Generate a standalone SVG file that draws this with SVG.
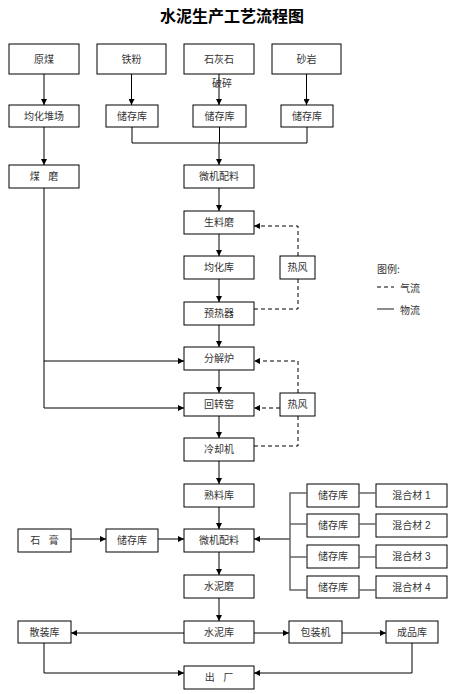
<svg xmlns="http://www.w3.org/2000/svg" width="463" height="694" viewBox="0 0 463 694">
<style>
.b{fill:#fff;stroke:#000;stroke-width:1}
.t{font-family:"Liberation Sans","Noto Sans CJK SC",sans-serif;font-size:10px;fill:#333;text-anchor:middle;dominant-baseline:central}
.l{fill:none;stroke:#000;stroke-width:1}
.d{fill:none;stroke:#000;stroke-width:1;stroke-dasharray:4,3}
.g{fill:none;stroke:#666;stroke-width:1.5}
</style>
<defs>
<marker id="a" viewBox="0 0 10 10" refX="10" refY="5" markerWidth="6" markerHeight="6" orient="auto" markerUnits="userSpaceOnUse"><path d="M0,0L10,5L0,10z" fill="#000"/></marker>
</defs>
<rect width="463" height="694" fill="#fff"/>
<text x="232" y="15" style="font-family:'Noto Sans CJK SC',sans-serif;font-size:16px;font-weight:bold;text-anchor:middle;dominant-baseline:central">水泥生产工艺流程图</text>

<g id="n_yuanmei"><rect class="b" x="9" y="44" width="70" height="30"/><text class="t" x="44" y="59">原煤</text></g>
<g id="n_tiefen"><rect class="b" x="97" y="44" width="69" height="30"/><text class="t" x="131.5" y="59">铁粉</text></g>
<g id="n_shihuishi"><rect class="b" x="184" y="44" width="70" height="30"/><text class="t" x="219" y="59">石灰石</text></g>
<g id="n_shayan"><rect class="b" x="272" y="44" width="69" height="30"/><text class="t" x="306.5" y="59">砂岩</text></g>

<g id="n_junhuaduichang"><rect class="b" x="9" y="105" width="70" height="22"/><text class="t" x="44" y="116">均化堆场</text></g>
<g id="n_ck1"><rect class="b" x="106" y="105" width="52" height="22"/><text class="t" x="132" y="116">储存库</text></g>
<g id="n_ck2"><rect class="b" x="193" y="105" width="53" height="22"/><text class="t" x="219.5" y="116">储存库</text></g>
<g id="n_ck3"><rect class="b" x="281" y="105" width="52" height="22"/><text class="t" x="307" y="116">储存库</text></g>

<g id="n_meimo"><rect class="b" x="9" y="165" width="70" height="23"/><text class="t" x="44" y="176.5" xml:space="preserve">煤   磨</text></g>
<g id="n_wjpl1"><rect class="b" x="184" y="165" width="70" height="23"/><text class="t" x="219" y="176.5">微机配料</text></g>
<g id="n_shengliaomo"><rect class="b" x="184" y="211" width="70" height="23"/><text class="t" x="219" y="222.5">生料磨</text></g>
<g id="n_junhuaku"><rect class="b" x="184" y="256" width="70" height="23"/><text class="t" x="219" y="267.5">均化库</text></g>
<g id="n_refeng1"><rect class="b" x="280" y="256" width="35" height="23"/><text class="t" x="297.5" y="267.5">热风</text></g>
<g id="n_yureqi"><rect class="b" x="184" y="302" width="70" height="23"/><text class="t" x="219" y="313.5">预热器</text></g>
<g id="n_fenjielu"><rect class="b" x="184" y="347" width="70" height="23"/><text class="t" x="219" y="358.5">分解炉</text></g>
<g id="n_huizhuanyao"><rect class="b" x="184" y="393" width="70" height="23"/><text class="t" x="219" y="404.5">回转窑</text></g>
<g id="n_refeng2"><rect class="b" x="280" y="393" width="35" height="23"/><text class="t" x="297.5" y="404.5">热风</text></g>
<g id="n_lengqueji"><rect class="b" x="184" y="438" width="70" height="23"/><text class="t" x="219" y="449.5">冷却机</text></g>
<g id="n_shuliaoku"><rect class="b" x="184" y="484" width="70" height="23"/><text class="t" x="219" y="495.5">熟料库</text></g>
<g id="n_shigao"><rect class="b" x="18" y="529" width="53" height="23"/><text class="t" x="44.5" y="540.5" xml:space="preserve">石   膏</text></g>
<g id="n_ck_sg"><rect class="b" x="106" y="529" width="52" height="23"/><text class="t" x="132" y="540.5">储存库</text></g>
<g id="n_wjpl2"><rect class="b" x="184" y="529" width="70" height="23"/><text class="t" x="219" y="540.5">微机配料</text></g>
<g id="n_shuinimo"><rect class="b" x="184" y="575" width="70" height="23"/><text class="t" x="219" y="586.5">水泥磨</text></g>

<g id="n_ckr1"><rect class="b" x="307" y="484" width="52" height="23"/><text class="t" x="333" y="495.5">储存库</text></g>
<g id="n_ckr2"><rect class="b" x="307" y="514" width="52" height="23"/><text class="t" x="333" y="525.5">储存库</text></g>
<g id="n_ckr3"><rect class="b" x="307" y="545" width="52" height="23"/><text class="t" x="333" y="556.5">储存库</text></g>
<g id="n_ckr4"><rect class="b" x="307" y="576" width="52" height="22"/><text class="t" x="333" y="587">储存库</text></g>
<g id="n_hhc1"><rect class="b" x="376" y="484" width="71" height="23"/><text class="t" x="411.5" y="495.5">混合材 1</text></g>
<g id="n_hhc2"><rect class="b" x="376" y="514" width="71" height="23"/><text class="t" x="411.5" y="525.5">混合材 2</text></g>
<g id="n_hhc3"><rect class="b" x="376" y="545" width="71" height="23"/><text class="t" x="411.5" y="556.5">混合材 3</text></g>
<g id="n_hhc4"><rect class="b" x="376" y="576" width="71" height="22"/><text class="t" x="411.5" y="587">混合材 4</text></g>

<g id="n_sanzhuangku"><rect class="b" x="18" y="621" width="53" height="22"/><text class="t" x="44.5" y="632">散装库</text></g>
<g id="n_shuiniku"><rect class="b" x="184" y="621" width="70" height="22"/><text class="t" x="219" y="632">水泥库</text></g>
<g id="n_baozhuangji"><rect class="b" x="289" y="621" width="53" height="22"/><text class="t" x="315.5" y="632">包装机</text></g>
<g id="n_chengpinku"><rect class="b" x="386" y="621" width="52" height="22"/><text class="t" x="412" y="632">成品库</text></g>
<g id="n_chuchang"><rect class="b" x="184" y="666" width="70" height="23"/><text class="t" x="219" y="677.5" xml:space="preserve">出   厂</text></g>

<g id="legend">
<text x="377" y="268" style="font-family:'Noto Sans CJK SC',sans-serif;font-size:10px;fill:#333;dominant-baseline:central">图例:</text>
<line class="d" x1="377" y1="287" x2="394" y2="287"/>
<text x="400" y="287" style="font-family:'Noto Sans CJK SC',sans-serif;font-size:10px;fill:#333;dominant-baseline:central">气流</text>
<line x1="377" y1="309" x2="394" y2="309" stroke="#666" stroke-width="1.5"/>
<text x="400" y="309" style="font-family:'Noto Sans CJK SC',sans-serif;font-size:10px;fill:#333;dominant-baseline:central">物流</text>
</g>

<g id="connectors">
<line class="l" x1="44" y1="74" x2="44" y2="105" marker-end="url(#a)"/>
<line class="l" x1="131.5" y1="74" x2="131.5" y2="105" marker-end="url(#a)"/>
<line class="l" x1="219" y1="74" x2="219" y2="105" marker-end="url(#a)"/>
<text x="222" y="83" class="t">破碎</text>
<line class="l" x1="306.5" y1="74" x2="306.5" y2="105" marker-end="url(#a)"/>
<line class="l" x1="44" y1="127" x2="44" y2="165" marker-end="url(#a)"/>
<path class="l" d="M132,127V143H307V127M219.5,127V143"/>
<line class="l" x1="219" y1="143" x2="219" y2="165" marker-end="url(#a)"/>
<line class="l" x1="219" y1="188" x2="219" y2="211" marker-end="url(#a)"/>
<line class="l" x1="219" y1="234" x2="219" y2="256" marker-end="url(#a)"/>
<line class="l" x1="219" y1="279" x2="219" y2="302" marker-end="url(#a)"/>
<line class="l" x1="219" y1="325" x2="219" y2="347" marker-end="url(#a)"/>
<line class="l" x1="219" y1="370" x2="219" y2="393" marker-end="url(#a)"/>
<line class="l" x1="219" y1="416" x2="219" y2="438" marker-end="url(#a)"/>
<line class="l" x1="219" y1="461" x2="219" y2="484" marker-end="url(#a)"/>
<line class="l" x1="219" y1="507" x2="219" y2="529" marker-end="url(#a)"/>
<line class="l" x1="219" y1="552" x2="219" y2="575" marker-end="url(#a)"/>
<line class="l" x1="219" y1="598" x2="219" y2="621" marker-end="url(#a)"/>

<path class="d" d="M298,256V226H254" marker-end="url(#a)"/>
<path class="d" d="M254,309H298V279"/>
<path class="d" d="M298,393V361H254" marker-end="url(#a)"/>
<line class="d" x1="280" y1="408" x2="254" y2="408" marker-end="url(#a)"/>
<path class="d" d="M254,446H298V416"/>

<path class="l" d="M44,188V408H184" marker-end="url(#a)"/>
<line class="l" x1="44" y1="361" x2="184" y2="361" marker-end="url(#a)"/>

<line class="l" x1="71" y1="539" x2="106" y2="539" marker-end="url(#a)"/>
<line class="l" x1="158" y1="539" x2="184" y2="539" marker-end="url(#a)"/>
<line class="l" x1="290" y1="539" x2="254" y2="539" marker-end="url(#a)"/>

<path class="g" d="M307,493H290V590H307M290,524H307M290,557H307"/>
<path class="g" d="M359,493H376M359,524H376M359,557H376M359,590H376"/>

<line class="l" x1="184" y1="633" x2="71" y2="633" marker-end="url(#a)"/>
<line class="l" x1="254" y1="633" x2="289" y2="633" marker-end="url(#a)"/>
<line class="l" x1="342" y1="633" x2="386" y2="633" marker-end="url(#a)"/>
<path class="l" d="M44,643V673H184" marker-end="url(#a)"/>
<path class="l" d="M412,643V673H254" marker-end="url(#a)"/>
</g>
</svg>
